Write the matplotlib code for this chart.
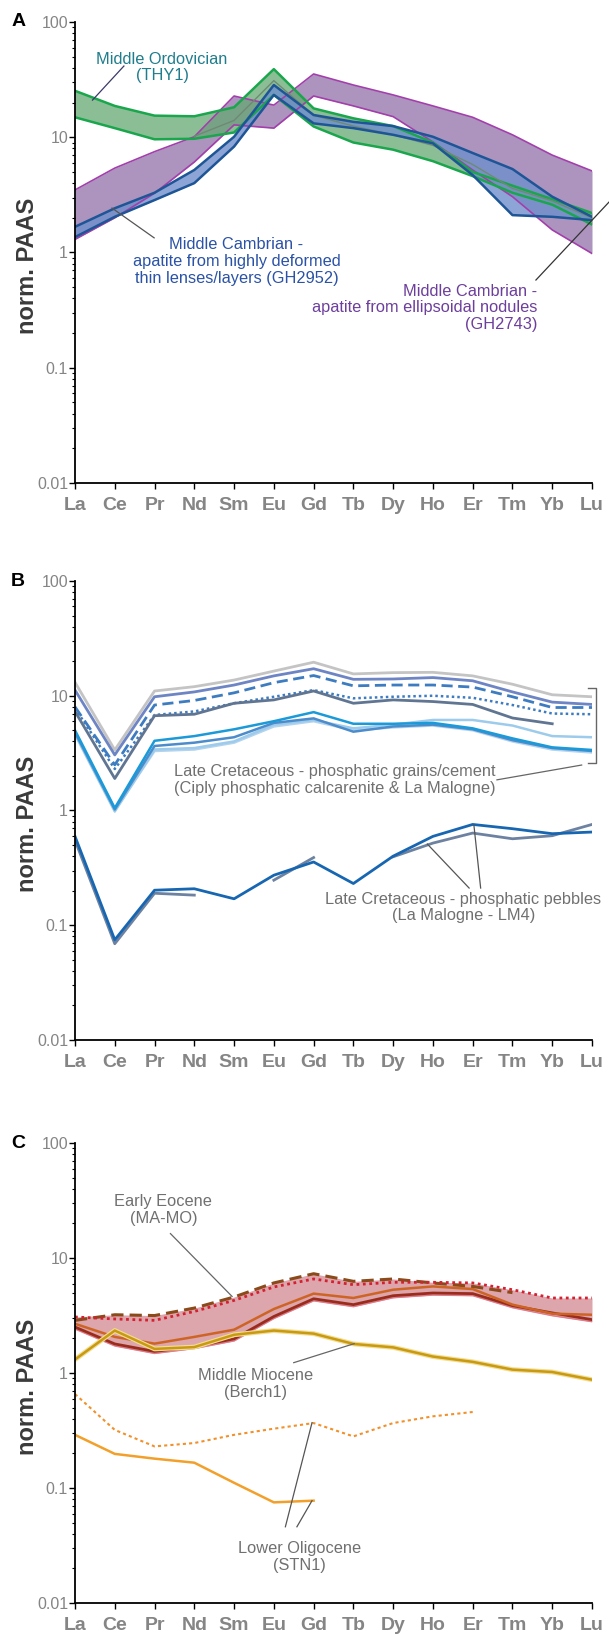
import numpy as np
import matplotlib
matplotlib.use("Agg")
import matplotlib.pyplot as plt

# REE patterns normalised to PAAS, three sample groups (A, B, C)
elements = ["La", "Ce", "Pr", "Nd", "Sm", "Eu", "Gd", "Tb", "Dy", "Ho", "Er", "Tm", "Yb", "Lu"]
nan = np.nan

# --- A: Palaeozoic apatites (envelopes) ---
thy1_hi = [25.3, 18.7, 15.4, 15.2, 18.2, 39.0, 17.8, 14.6, 12.5, 9.0, 5.0, 3.8, 2.9, 2.2]
thy1_lo = [14.9, 12.0, 9.6, 9.7, 11.0, 23.3, 12.4, 9.0, 7.8, 6.2, 4.6, 3.3, 2.6, 1.75]
thy1_mid = [nan, nan, nan, 10.2, 14.0, 31.0, 15.5, 12.5, 10.5, 8.5, 5.8, 3.6, 2.8, 2.0]
gh2743_hi = [3.49, 5.4, 7.5, 10.1, 22.8, 19.0, 35.4, 28.4, 23.3, 18.7, 14.9, 10.5, 7.0, 5.1]
gh2743_lo = [1.3, 2.0, 3.27, 6.1, 12.8, 12.0, 22.8, 18.7, 15.1, 9.1, 5.2, 3.05, 1.57, 0.98]
gh2952_hi = [1.67, 2.42, 3.3, 5.2, 10.1, 28.4, 15.6, 13.6, 12.5, 10.1, 7.3, 5.3, 3.05, 2.04]
gh2952_lo = [1.36, 2.04, 2.85, 4.0, 8.3, 23.3, 13.2, 12.0, 10.5, 8.85, 4.7, 2.11, 2.04, 1.91]

# --- B: Late Cretaceous grains/cement and pebbles ---
cret_grey = [13.1, 3.37, 11.0, 12.0, 13.7, 16.4, 19.6, 15.5, 15.9, 16.0, 14.9, 12.6, 10.2, 9.8]
cret_violet = [11.2, 3.05, 9.8, 10.8, 12.4, 14.9, 17.2, 13.9, 14.0, 14.4, 13.5, 10.8, 8.8, 8.4]
cret_dash = [8.0, 2.5, 8.3, 9.1, 10.6, 13.0, 15.0, 12.2, 12.4, 12.4, 11.9, 9.8, 7.9, 7.9]
cret_dot = [7.8, 2.3, 6.8, 7.3, 8.6, 9.8, 11.2, 9.5, 9.8, 10.0, 9.6, 8.3, 7.0, 6.9]
cret_slate = [7.3, 1.9, 6.7, 6.9, 8.6, 9.2, 11.0, 8.6, 9.2, 8.9, 8.4, 6.4, 5.7, nan]
cret_cyan = [5.0, 1.05, 4.05, 4.45, 5.1, 6.0, 7.2, 5.7, 5.7, 5.8, 5.2, 4.25, 3.55, 3.37]
cret_blue = [4.8, 1.02, 3.65, 3.9, 4.35, 5.8, 6.35, 4.86, 5.4, 5.6, 5.1, 4.1, 3.5, 3.3]
cret_sky = [4.6, 0.98, 3.4, 3.5, 4.0, 5.6, 6.15, 5.2, 5.6, 6.15, 6.15, 5.5, 4.45, 4.35]
cret_pale = [4.7, 1.0, 3.3, 3.4, 3.9, 5.4, 6.0, 5.0, 5.3, 5.5, 5.0, 4.0, 3.4, 3.2]
lm4_a = [0.595, 0.0746, 0.202, 0.208, 0.17, 0.273, 0.356, 0.231, 0.4, 0.595, 0.756, 0.694, 0.628, 0.649]
lm4_b = [0.55, 0.069, 0.19, 0.183, nan, 0.247, 0.389, nan, 0.395, 0.52, 0.636, 0.567, 0.603, 0.756]

# --- C: Cenozoic samples ---
mamo_dash = [2.87, 3.21, 3.16, 3.67, 4.58, 6.07, 7.3, 6.27, 6.57, 6.07, 5.66, 5.0, nan, nan]
mamo_dot = [3.07, 2.95, 2.87, 3.43, 4.28, 5.6, 6.57, 5.86, 6.15, 6.15, 6.07, 5.3, 4.49, 4.49]
mamo_orange = [2.68, 2.06, 1.8, 2.06, 2.38, 3.6, 4.9, 4.49, 5.3, 5.66, 5.37, 3.93, 3.28, 3.21]
mamo_dark = [2.51, 1.79, 1.54, 1.7, 1.98, 3.1, 4.42, 3.93, 4.7, 4.96, 4.9, 3.85, 3.33, 2.91]
berch1 = [1.31, 2.34, 1.62, 1.68, 2.15, 2.34, 2.2, 1.79, 1.67, 1.39, 1.25, 1.07, 1.02, 0.875]
stn1_solid = [0.29, 0.198, 0.18, 0.166, 0.111, 0.075, 0.0776, nan, nan, nan, nan, nan, nan, nan]
stn1_dot = [0.656, 0.32, 0.23, 0.246, 0.29, 0.328, 0.367, 0.281, 0.367, 0.42, 0.458, nan, nan, nan]

x = np.arange(len(elements))

plt.rcParams["font.family"] = ["Liberation Sans", "DejaVu Sans"]

tick_grey = "#858585"
note_grey = "#707070"


def setup(ax, letter):
    ax.set_yscale("log")
    ax.set_ylim(0.01, 100)
    ax.set_xlim(0, 13)
    ax.set_xticks(x)
    ax.set_xticklabels(elements, fontsize=14, fontweight="bold", color=tick_grey)
    ax.set_yticks([0.01, 0.1, 1, 10, 100])
    ax.set_yticklabels(["0.01", "0.1", "1", "10", "100"], fontsize=11.5, color=tick_grey)
    for s in ["top", "right"]:
        ax.spines[s].set_visible(False)
    ax.spines["left"].set_linewidth(1.3)
    ax.spines["bottom"].set_linewidth(1.3)
    ax.tick_params(axis="x", length=4, width=1, pad=6)
    ax.tick_params(axis="y", which="major", length=4, width=1, pad=1)
    ax.tick_params(axis="y", which="minor", length=2.5, width=0.8)
    ax.set_ylabel("norm. PAAS", fontsize=17, fontweight="bold", color="#3a3a3a")
    ax.yaxis.set_label_coords(-0.07, 0.47)
    ax.text(-0.11, 1.0, letter, transform=ax.transAxes, fontsize=14, fontweight="bold",
            ha="center", va="center")


def note(ax, xx, yy, s, color=note_grey, ha="center"):
    ax.text(xx, yy, s, fontsize=11.8, color=color, ha=ha, va="center",
            linespacing=1.15, clip_on=False)


def leader(ax, x0, y0, x1, y1, color="#555555"):
    ax.plot([x0, x1], [y0, y1], color=color, lw=0.9, clip_on=False)


fig = plt.figure(figsize=(6.09, 16.35), dpi=100)
left, width = 75 / 609, 517 / 609
axA = fig.add_axes([left, 1 - 483 / 1635, width, 461 / 1635])
axB = fig.add_axes([left, 1 - 1040 / 1635, width, 459 / 1635])
axC = fig.add_axes([left, 1 - 1603 / 1635, width, 460 / 1635])

# ---------------- A ----------------
ax = axA
setup(ax, "A")
ax.fill_between(x, gh2743_lo, gh2743_hi, color="#9f82b4", alpha=0.85, lw=0)
ax.plot(x, gh2743_hi, color="#a33fab", lw=1.2)
ax.plot(x, gh2743_lo, color="#a33fab", lw=1.2)
ax.fill_between(x, thy1_lo, thy1_hi, color="#66a873", alpha=0.75, lw=0)
ax.plot(x, thy1_hi, color="#1aa64c", lw=1.8)
ax.plot(x, thy1_lo, color="#1aa64c", lw=1.8)
ax.plot(x, thy1_mid, color="#6e8a74", lw=1.0)
ax.fill_between(x, gh2952_lo, gh2952_hi, color="#6f8fcc", alpha=0.8, lw=0)
ax.plot(x, gh2952_hi, color="#1e5596", lw=1.8)
ax.plot(x, gh2952_lo, color="#1e5596", lw=1.8)

note(ax, 2.19, 40.3, "Middle Ordovician\n(THY1)", color="#1f7d8c")
leader(ax, 1.23, 41.5, 0.44, 21.0, color="#3a3a6a")
note(ax, 4.06, 0.84, "Middle Cambrian -\napatite from highly deformed\nthin lenses/layers (GH2952)",
     color="#2a52a6")
leader(ax, 0.93, 2.43, 1.99, 1.34)
note(ax, 11.63, 0.33, "Middle Cambrian -\napatite from ellipsoidal nodules\n(GH2743)",
     color="#6d3f9c", ha="right")
leader(ax, 11.59, 0.577, 13.6, 3.17, color="#333333")

# ---------------- B ----------------
ax = axB
setup(ax, "B")
ax.plot(x, cret_grey, color="#c4c4c4", lw=2)
ax.plot(x, cret_violet, color="#6d85c4", lw=2)
ax.plot(x, cret_dash, color="#3d7cc0", lw=2, dashes=(4, 2))
ax.plot(x, cret_dot, color="#3d7cc0", lw=1.8, dashes=(1, 1.2))
ax.plot(x, cret_slate, color="#607592", lw=2)
ax.plot(x, cret_pale, color="#b4d3ee", lw=1.8)
ax.plot(x, cret_sky, color="#9ccbeb", lw=1.8)
ax.plot(x, cret_blue, color="#4c8ccb", lw=1.8)
ax.plot(x, cret_cyan, color="#1a9ad8", lw=1.8)
ax.plot(x, lm4_b, color="#6d82a0", lw=2)
ax.plot(x, lm4_a, color="#1766b2", lw=2)

note(ax, 6.53, 1.85, "Late Cretaceous - phosphatic grains/cement\n(Ciply phosphatic calcarenite & La Malogne)")
leader(ax, 10.61, 1.85, 12.74, 2.49, color="#666666")
ax.plot([12.89, 13.09, 13.09, 12.89], [11.7, 11.7, 2.6, 2.6], color="#666666", lw=1, clip_on=False)
note(ax, 9.77, 0.143, "Late Cretaceous - phosphatic pebbles\n(La Malogne - LM4)")
leader(ax, 9.91, 0.211, 8.86, 0.51)
leader(ax, 10.2, 0.211, 10.03, 0.748)

# ---------------- C ----------------
ax = axC
setup(ax, "C")
series = np.array([mamo_dash, mamo_dot, mamo_orange, mamo_dark])
env_hi = np.nanmax(series, axis=0)
env_lo = np.nanmin(series, axis=0)
ax.fill_between(x, env_lo * 0.96, env_hi, color="#d58f98", alpha=0.8, lw=0)
ax.plot(x, env_lo * 0.96, color="#e07b8c", lw=1)
ax.plot(x, mamo_dark, color="#9a2c1c", lw=2)
ax.plot(x, mamo_orange, color="#cd6424", lw=1.8)
ax.plot(x, mamo_dash, color="#8a4a1a", lw=2.2, dashes=(4, 2))
ax.plot(x, mamo_dot, color="#d42030", lw=2, dashes=(1, 1.3))
ax.plot(x, berch1, color="#f3dc92", lw=3.5)
ax.plot(x, berch1, color="#c89a12", lw=1.8)
ax.plot(x, stn1_dot, color="#f2902a", lw=1.5, dashes=(1.5, 1.5))
ax.plot(x, stn1_solid, color="#f2a02a", lw=1.8)

note(ax, 2.22, 26.3, "Early Eocene\n(MA-MO)")
leader(ax, 2.4, 16.3, 3.95, 4.63, color="#666666")
note(ax, 4.53, 0.807, "Middle Miocene\n(Berch1)")
leader(ax, 5.5, 1.23, 7.02, 1.8, color="#666666")
note(ax, 5.64, 0.025, "Lower Oligocene\n(STN1)")
leader(ax, 5.29, 0.046, 5.96, 0.37, color="#555555")
leader(ax, 5.58, 0.046, 5.96, 0.0776, color="#555555")

fig.savefig("out.png", dpi=100)
